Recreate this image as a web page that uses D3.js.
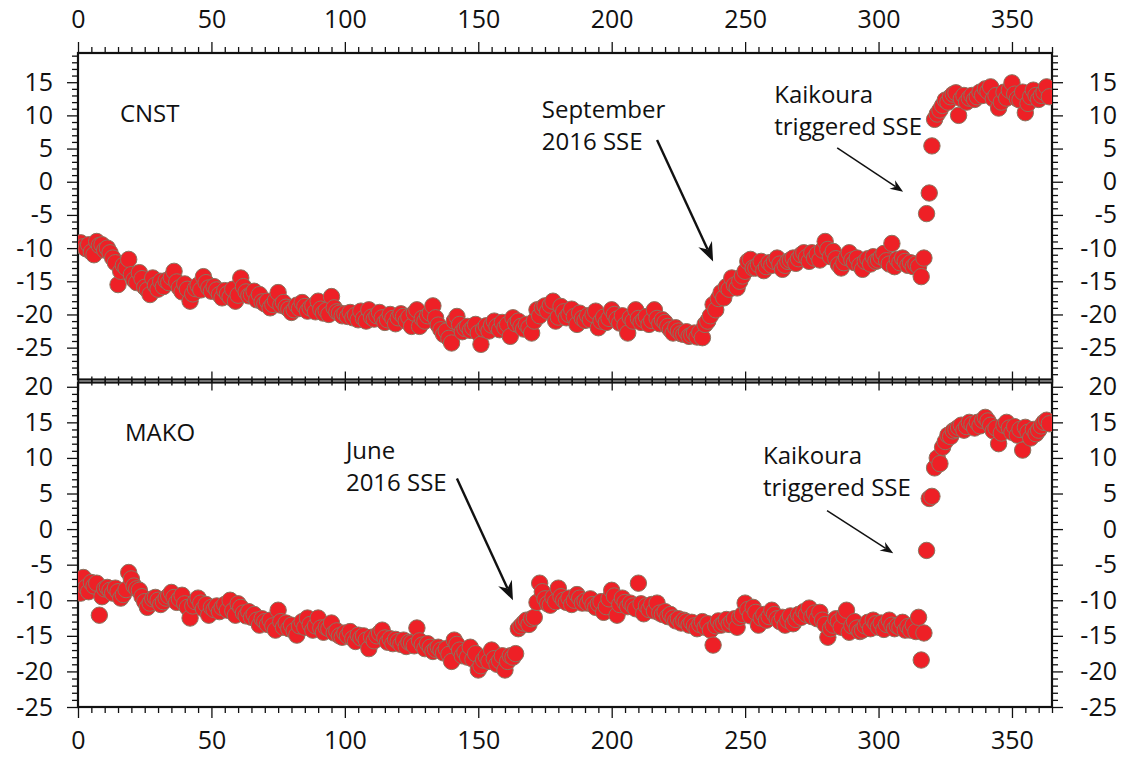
<!DOCTYPE html>
<html>
<head>
<meta charset="utf-8">
<script src="https://cdn.jsdelivr.net/npm/d3@7"></script>
<style>
  body { margin: 0; background: #fff; }
  svg { display: block; font-family: "Open Sans", "Noto Sans", sans-serif; }
  .tick text { font-size: 25px; fill: #111; }
  .tick line { stroke: #111; stroke-width: 1.3; }
  .note { font-size: 24px; fill: #111; }
</style>
</head>
<body>
<div id="chart"></div>
<script>
const width = 1125;
const height = 759;

// day-of-year index starts at 1
const firstDay = 1;

// CNST east displacement (mm), one value per day, days 1..364
const cnst = [
  -9.2, -9.8, -10.1, -9.5, -10.6, -11.0, -9.0, -9.6, -9.5, -10.3,
  -10.0, -10.7, -11.5, -12.2, -15.5, -13.5, -12.6, -13.0, -11.7, -14.0,
  -14.8, -15.2, -13.7, -14.6, -15.9, -16.3, -17.0, -14.5, -15.6, -16.2,
  -15.0, -15.8, -14.9, -15.2, -14.4, -13.5, -15.1, -16.0, -16.6, -15.4,
  -16.2, -18.0, -16.9, -16.1, -15.6, -16.3, -14.3, -15.2, -16.0, -16.5,
  -15.8, -16.3, -17.0, -17.5, -16.4, -16.9, -17.4, -16.2, -18.0, -17.1,
  -14.5, -15.8, -16.6, -17.2, -17.0, -16.5, -17.8, -17.0, -18.1, -18.4,
  -18.0, -19.0, -18.5, -17.9, -16.7, -18.6, -18.2, -18.9, -19.2, -19.7,
  -19.3, -18.6, -19.1, -18.2, -18.8, -19.5, -19.0, -18.7, -19.6, -18.0,
  -19.2, -19.8, -19.4, -20.0, -17.3, -19.0, -19.6, -19.8, -20.2, -19.9,
  -20.3, -19.7, -20.5, -20.1, -20.8, -19.5, -20.6, -21.0, -19.3, -20.4,
  -20.7, -20.2, -19.7, -20.5, -21.2, -20.8, -20.0, -20.6, -21.4, -20.5,
  -19.9, -20.3, -21.0, -20.4, -21.8, -19.8, -19.3, -21.8, -20.6, -21.0,
  -20.2, -19.8, -18.7, -20.5, -21.6, -22.3, -23.0, -22.5, -23.6, -24.3,
  -21.0, -20.3, -21.5, -22.6, -22.1, -21.8, -22.4, -22.0, -21.5, -22.8,
  -24.5, -22.2, -21.7, -22.5, -21.6, -21.0, -21.8, -22.3, -21.2, -22.0,
  -21.5, -23.3, -20.5, -21.4, -21.0, -21.8, -22.2, -21.5, -22.0, -22.8,
  -21.0, -19.3, -20.2, -19.0, -18.7, -19.5, -18.6, -18.0, -21.0, -20.4,
  -18.8, -19.6, -20.5, -20.0, -19.2, -20.3, -21.5, -19.8, -20.6, -20.9,
  -20.2, -20.8, -20.0, -19.5, -22.0, -21.0, -20.4, -21.2, -20.6, -19.3,
  -20.0, -20.7, -21.3, -20.2, -21.6, -22.8, -20.5, -21.0, -19.3, -20.6,
  -21.2, -20.8, -20.3, -21.5, -20.9, -19.3, -20.6, -21.4, -20.8, -21.2,
  -21.8, -22.3, -22.8, -22.0, -22.5, -22.9, -23.0, -22.6, -23.3, -23.1,
  -22.8, -23.4, -22.7, -23.5, -21.5, -21.0, -20.2, -18.5, -19.3, -17.6,
  -16.7, -17.5, -15.8, -16.2, -14.5, -15.6, -16.0, -15.0, -14.2, -13.5,
  -12.0, -11.7, -13.0, -13.0, -12.5, -12.0, -13.4, -12.8, -12.2, -12.6,
  -12.0, -11.5, -12.4, -13.2, -12.6, -12.0, -11.8, -11.5, -12.3, -11.6,
  -11.0, -10.7, -11.4, -12.0, -10.7, -11.5, -10.9, -11.8, -10.3, -9.0,
  -10.2, -11.3, -10.5, -11.6, -12.5, -13.0, -12.2, -11.4, -10.7, -11.8,
  -12.2, -11.5, -12.6, -13.2, -12.0, -11.6, -12.4, -11.3, -12.0, -11.8,
  -11.3, -10.8, -11.9, -12.4, -9.3, -12.8, -11.7, -12.2, -11.5, -12.0,
  -12.6, -12.2, -12.8, -12.4, -12.8, -14.3, -11.5, -4.8, -1.7, 5.4,
  9.4, 10.2, 10.8, 11.5, 12.3, 12.0, 12.8, 13.2, 13.4, 10.0,
  12.5, 13.0, 12.0, 12.6, 13.0, 12.4, 12.8, 13.5, 13.0, 14.0,
  13.6, 14.3, 12.5, 13.0, 11.1, 12.0, 13.5, 12.6, 13.8, 14.9,
  13.2, 12.5, 12.3, 13.5, 10.4, 11.8, 12.8, 13.8, 13.0, 12.4,
  13.0, 13.5, 14.3, 12.8
];

// MAKO east displacement (mm), days 1..364
const mako = [
  -9.0, -6.8, -8.2, -8.8, -7.5, -8.0, -7.6, -12.1, -9.5, -8.4,
  -8.2, -8.6, -9.0, -8.3, -8.8, -9.7, -9.2, -8.5, -6.1, -7.0,
  -8.0, -8.4, -8.6, -9.5, -10.2, -11.0, -10.4, -9.8, -9.6, -10.0,
  -10.6, -10.2, -9.7, -9.4, -8.9, -9.6, -10.3, -9.8, -9.3, -10.5,
  -11.0, -12.5, -10.8, -10.2, -9.7, -10.4, -11.2, -10.6, -12.1, -11.0,
  -11.3, -10.8, -11.6, -11.0, -10.6, -11.4, -10.0, -11.5, -12.1, -10.5,
  -11.0, -11.8, -12.2, -11.6, -12.4, -12.0, -12.8, -13.5, -12.6, -13.0,
  -13.4, -12.8, -13.6, -14.2, -11.4, -13.0, -13.8, -13.2, -14.0, -13.5,
  -14.3, -14.9, -13.6, -13.0, -13.8, -12.5, -13.4, -14.2, -13.6, -12.5,
  -13.9, -14.5, -13.8, -14.0, -13.2, -14.6, -14.3, -15.0, -15.2, -14.6,
  -15.0, -14.4, -15.4, -15.8, -14.9, -15.3, -15.0, -15.6, -16.8, -15.2,
  -15.7, -15.0, -14.6, -14.2, -15.3, -15.9, -15.4, -16.1, -15.5, -15.8,
  -16.2, -15.6, -16.5, -15.9, -16.0, -16.4, -13.9, -15.7, -16.3, -16.8,
  -16.1, -16.6, -17.2, -16.9, -16.6, -17.0, -17.4, -16.8, -17.6, -18.6,
  -15.6, -16.2, -17.0, -17.8, -17.3, -18.0, -16.6, -18.3, -17.5, -19.8,
  -19.2, -18.4, -17.9, -18.6, -17.0, -18.2, -19.0, -18.5, -17.8, -19.8,
  -18.6, -17.8, -18.0, -17.5, -14.0, -13.6, -13.2, -12.8, -13.4, -12.6,
  -12.4, -10.3, -7.6, -8.8, -9.8, -10.5, -10.7, -9.6, -10.2, -8.3,
  -9.5, -10.0, -10.3, -9.7, -10.6, -10.0, -9.2, -9.7, -10.4, -10.1,
  -10.4, -9.8, -10.6, -11.0, -10.5, -10.2, -11.7, -10.9, -9.8, -8.6,
  -9.4, -12.1, -10.6, -9.7, -10.3, -10.9, -10.4, -10.8, -11.2, -7.6,
  -10.5, -11.9, -10.8, -11.3, -10.6, -11.5, -10.4, -11.8, -12.0, -11.6,
  -12.3, -12.0, -12.5, -12.9, -12.6, -13.2, -12.8, -13.0, -13.5, -13.1,
  -13.6, -14.0, -13.4, -13.0, -13.8, -13.3, -14.2, -16.3, -13.6, -12.9,
  -13.5, -13.2, -12.7, -13.4, -13.0, -12.6, -13.8, -12.4, -12.0, -10.4,
  -11.3, -12.2, -11.0, -11.7, -13.5, -12.5, -12.0, -12.8, -12.3, -11.4,
  -12.0, -12.6, -13.0, -12.4, -13.5, -12.8, -12.2, -13.3, -12.7, -12.0,
  -12.4, -11.6, -12.0, -11.1, -12.3, -11.8, -12.6, -11.7, -12.8, -13.4,
  -15.2, -14.0, -13.5, -12.6, -13.0, -13.8, -12.2, -11.4, -14.5, -13.6,
  -13.0, -13.9, -14.4, -14.2, -13.6, -13.1, -14.0, -12.8, -13.3, -13.8,
  -13.2, -14.1, -13.4, -12.8, -13.5, -14.0, -13.6, -13.8, -13.1, -14.2,
  -13.7, -14.2, -13.5, -14.4, -12.4, -18.4, -14.6, -3.0, 4.3, 4.6,
  8.6, 10.0, 9.2, 11.5, 12.3, 13.2, 13.0, 13.8, 14.0, 14.3,
  14.6, 13.9, 14.4, 15.0, 14.7, 14.2, 15.0, 14.5, 15.3, 15.7,
  15.2, 14.6, 13.8, 14.2, 12.0, 13.5, 14.6, 15.0, 14.2, 13.6,
  14.4, 13.2, 14.0, 11.1, 14.3, 13.6, 12.8, 14.0, 13.4, 13.9,
  14.5, 15.0, 15.3, 14.8
];

// axis settings
const xDomain = [0, 365];
const xMajorTicks = [0, 50, 100, 150, 200, 250, 300, 350];
const topDomain = [-29.8, 19.4];
const topTicks = [-25, -20, -15, -10, -5, 0, 5, 10, 15];
const botDomain = [-25, 20.6];
const botTicks = [-25, -20, -15, -10, -5, 0, 5, 10, 15, 20];

// annotations, placed in data units of their panel
const labels = [
  { panel: 'top', day: 15.7, value: 9.0, lines: ['CNST'] },
  { panel: 'top', day: 173.8, value: 9.6, lines: ['September', '2016 SSE'] },
  { panel: 'top', day: 260.9, value: 11.9, lines: ['Kaikoura', 'triggered SSE'] },
  { panel: 'bot', day: 17.6, value: 12.4, lines: ['MAKO'] },
  { panel: 'bot', day: 100.4, value: 9.9, lines: ['June', '2016 SSE'] },
  { panel: 'bot', day: 256.7, value: 9.2, lines: ['Kaikoura', 'triggered SSE'] },
];
const arrows = [
  { panel: 'top', from: [217, 6.3], to: [238, -12.0], heavy: true },
  { panel: 'top', from: [284.5, 5.1], to: [309.2, -1.5], heavy: false },
  { panel: 'bot', from: [142, 7.1], to: [163, -10.0], heavy: true },
  { panel: 'bot', from: [280.7, 2.6], to: [305.5, -3.4], heavy: false },
];

const plotLeft = 78, plotRight = 1052;
const topPanel = { y0: 53, y1: 379.5 };
const botPanel = { y0: 382.5, y1: 707 };

const x = d3.scaleLinear().domain(xDomain).range([plotLeft, plotRight]);
const yTop = d3.scaleLinear().domain(topDomain).range([topPanel.y1, topPanel.y0]);
const yBot = d3.scaleLinear().domain(botDomain).range([botPanel.y1, botPanel.y0]);
const yFor = p => (p === 'top' ? yTop : yBot);

const svg = d3.select('#chart')
  .append('svg')
  .attr('width', width)
  .attr('height', height);

svg.append('rect').attr('width', width).attr('height', height).attr('fill', '#fff');

const xMinor = d3.range(0, 366, 5).filter(d => d % 50 !== 0);

// draws a set of major + minor ticks along one edge
function edgeAxis(axisFn, scale, major, minor, translate, showLabels) {
  const g = svg.append('g').attr('transform', translate);
  g.append('g').call(axisFn(scale).tickValues(minor).tickSize(6).tickFormat(''))
    .call(a => a.select('.domain').remove());
  const m = g.append('g').call(axisFn(scale).tickValues(major).tickSize(11)
      .tickPadding(14).tickFormat(showLabels ? d => String(d) : ''))
    .call(a => a.select('.domain').remove());
  g.selectAll('g').attr('font-family', null).attr('font-size', null);
  return m;
}

// top panel
edgeAxis(d3.axisTop, x, xMajorTicks, xMinor, `translate(0,${topPanel.y0})`, true)
  .selectAll('text').attr('y', -25);
edgeAxis(d3.axisBottom, x, xMajorTicks, xMinor, `translate(0,${topPanel.y1})`, false);
const topMinorY = d3.range(-29, 20).filter(d => d % 5 !== 0);
edgeAxis(d3.axisLeft, yTop, topTicks, topMinorY, `translate(${plotLeft},0)`, true);
edgeAxis(d3.axisRight, yTop, topTicks, topMinorY, `translate(${plotRight},0)`, true)
  .selectAll('text').attr('x', 1117 - plotRight).attr('text-anchor', 'end');

// bottom panel
edgeAxis(d3.axisTop, x, xMajorTicks, xMinor, `translate(0,${botPanel.y0})`, false);
edgeAxis(d3.axisBottom, x, xMajorTicks, xMinor, `translate(0,${botPanel.y1})`, true)
  .selectAll('text').attr('y', 42).attr('dy', null);
const botMinorY = d3.range(-25, 21).filter(d => d % 5 !== 0);
edgeAxis(d3.axisLeft, yBot, botTicks, botMinorY, `translate(${plotLeft},0)`, true);
edgeAxis(d3.axisRight, yBot, botTicks, botMinorY, `translate(${plotRight},0)`, true)
  .selectAll('text').attr('x', 1117 - plotRight).attr('text-anchor', 'end');

// frames
[topPanel, botPanel].forEach(p => {
  svg.append('rect')
    .attr('x', plotLeft).attr('y', p.y0)
    .attr('width', plotRight - plotLeft).attr('height', p.y1 - p.y0)
    .attr('fill', 'none').attr('stroke', '#111').attr('stroke-width', 2.2);
});

// dots
function drawDots(values, yScale, p) {
  const clipId = 'clip-' + p;
  svg.append('clipPath').attr('id', clipId)
    .append('rect')
    .attr('x', plotLeft).attr('y', yScale.range()[1])
    .attr('width', plotRight - plotLeft)
    .attr('height', yScale.range()[0] - yScale.range()[1]);
  svg.append('g')
    .attr('clip-path', `url(#${clipId})`)
    .selectAll('circle')
    .data(values)
    .join('circle')
    .attr('cx', (d, i) => x(firstDay + i))
    .attr('cy', d => yScale(d))
    .attr('r', 8.2)
    .attr('fill', '#ee2026')
    .attr('stroke', '#8a7460')
    .attr('stroke-width', 1);
}
drawDots(cnst, yTop, 'top');
drawDots(mako, yBot, 'bot');

// annotations
labels.forEach(l => {
  const t = svg.append('text')
    .attr('class', 'note')
    .attr('x', x(l.day))
    .attr('y', yFor(l.panel)(l.value));
  l.lines.forEach((s, i) => {
    t.append('tspan').attr('x', x(l.day)).attr('dy', i === 0 ? 0 : 32).text(s);
  });
});

arrows.forEach(a => {
  const ys = yFor(a.panel);
  const x1 = x(a.from[0]), y1 = ys(a.from[1]);
  const x2 = x(a.to[0]), y2 = ys(a.to[1]);
  const ang = Math.atan2(y2 - y1, x2 - x1);
  const len = a.heavy ? 19 : 13;
  const half = a.heavy ? 7.5 : 5;
  const notch = a.heavy ? 13 : 9;
  svg.append('line')
    .attr('x1', x1).attr('y1', y1)
    .attr('x2', x2 - Math.cos(ang) * notch).attr('y2', y2 - Math.sin(ang) * notch)
    .attr('stroke', '#111').attr('stroke-width', a.heavy ? 2.4 : 1.5);
  const pt = (along, side) => [
    x2 + Math.cos(ang) * along - Math.sin(ang) * side,
    y2 + Math.sin(ang) * along + Math.cos(ang) * side,
  ];
  const head = [pt(0, 0), pt(-len, -half), pt(-notch, 0), pt(-len, half)];
  svg.append('path')
    .attr('d', 'M' + head.map(p => p.join(',')).join('L') + 'Z')
    .attr('fill', '#111');
});
</script>
</body>
</html>
